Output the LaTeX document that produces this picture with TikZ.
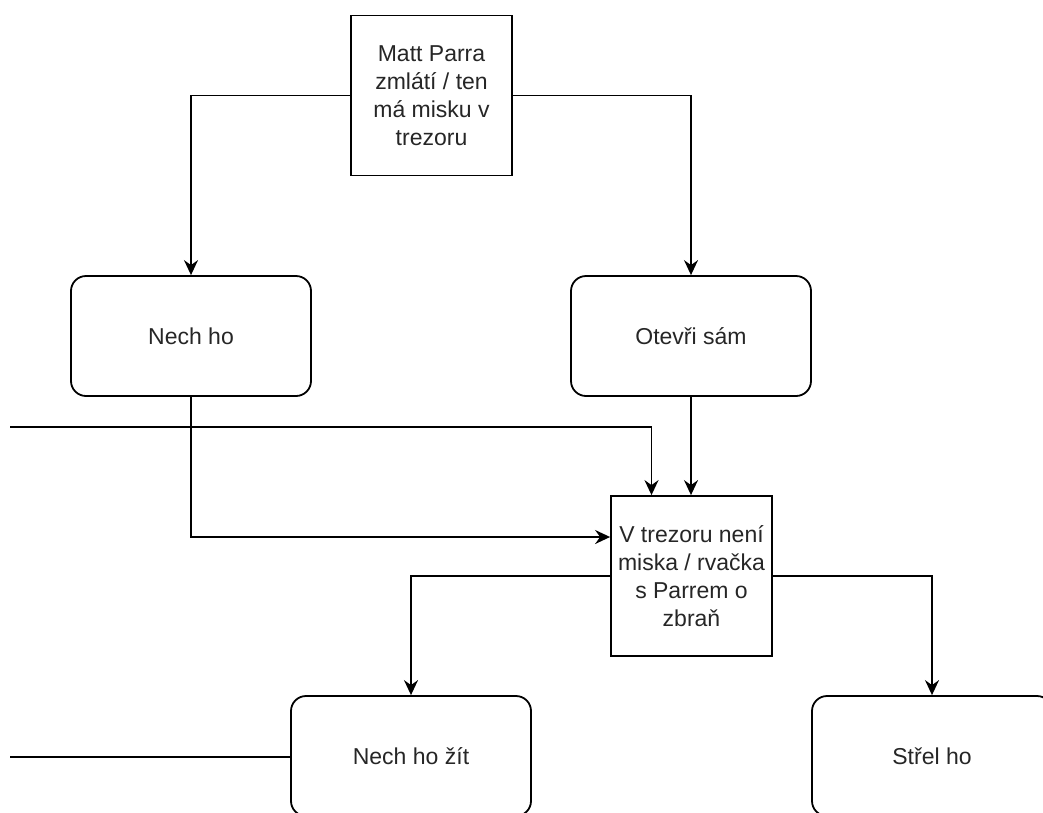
\documentclass[tikz,border=0pt]{standalone}
\usepackage{fontspec}
\setmainfont{Liberation Sans}
\usetikzlibrary{arrows.meta}

\begin{document}
\begin{tikzpicture}[x=1pt,y=-1pt,
  box/.style={draw, line width=1.8pt, align=center, text=black!85,
    font=\fontsize{23}{28}\selectfont, inner sep=0pt},
  sq/.style={box, minimum width=161pt, minimum height=160pt},
  rnd/.style={box, rounded corners=15pt, minimum width=240pt, minimum height=120pt},
  link/.style={line width=1.8pt},
  arr/.style={link, -{Stealth[length=15pt,width=14pt,inset=5pt]}}]
\useasboundingbox (0,0) rectangle (1043,812);
\clip (0,0) rectangle (1043,812);

% decision boxes
\node[sq] (parr) at (431.5,95.5) {Matt Parra\\zmlátí / ten\\má misku v\\trezoru};
\node[sq] (trez) at (691.5,576) {V trezoru není\\miska / rvačka\\s Parrem o\\zbraň};

% choices
\node[rnd] (nech) at (191,336) {Nech ho};
\node[rnd] (otev) at (691,336) {Otevři sám};
\node[rnd] (zit)  at (411,756) {Nech ho žít};
\node[rnd] (strel) at (932,756) {Střel ho};

% loose ends coming in from the left
\coordinate (inA) at (10,427);
\coordinate (inB) at (10,757);

% connectors
\draw[arr] (parr.west) -| (nech.north);
\draw[arr] (parr.east) -| (otev.north);
\draw[arr] (nech.south) |- ([yshift=39pt]trez.west);
\draw[arr] (inA) -| ([xshift=-40pt]trez.north);
\draw[arr] (otev.south) -- (otev.south |- trez.north);
\draw[arr] (trez.west) -| (zit.north);
\draw[arr] (trez.east) -| (strel.north);
\draw[link] (inB) -- (zit.west |- inB);
\end{tikzpicture}
\end{document}
